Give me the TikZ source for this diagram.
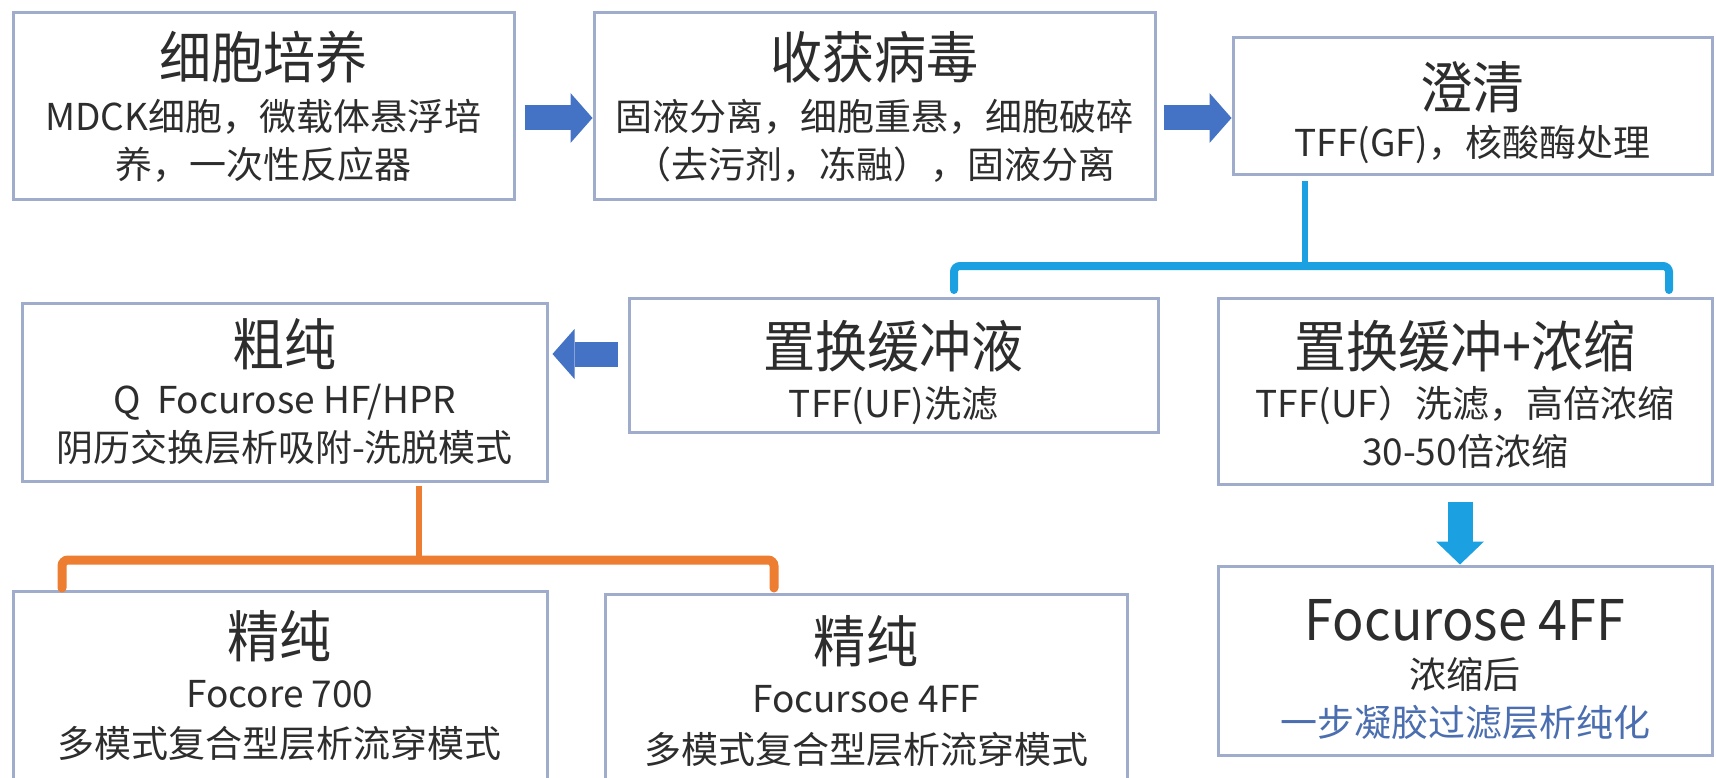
\documentclass[tikz,border=0pt]{standalone}
\usepackage{fontspec}
\setmainfont{Noto Sans CJK SC}
\newfontfamily\titlefam[FakeStretch=0.93]{Noto Sans CJK SC}
\usetikzlibrary{arrows.meta}
\definecolor{boxline}{RGB}{160,172,204}
\definecolor{arrowblue}{RGB}{68,114,196}
\definecolor{lightblue}{RGB}{27,160,226}
\definecolor{orangebr}{RGB}{237,125,49}
\definecolor{txt}{RGB}{45,45,45}
\definecolor{bluetxt}{RGB}{74,110,175}
\newcommand{\titlesz}{\titlefam\fontsize{56}{60}\selectfont}
\newcommand{\subsz}{\fontsize{37}{48}\selectfont}
\tikzset{
  boxstyle/.style={draw=boxline, line width=3pt, fill=white, inner sep=0pt},
  textblock/.style={align=center, text=txt, inner sep=0pt, font=\subsz},
  bigarrow/.style={draw=arrowblue, line width=25pt, -{Triangle[width=50pt,length=22pt,line width=0pt]}},
  downarrow/.style={draw=lightblue, line width=25pt, -{Triangle[width=48pt,length=23pt,line width=0pt]}},
  bluebr/.style={draw=lightblue, line width=8pt, rounded corners=6pt, line cap=round},
  bluestem/.style={draw=lightblue, line width=6pt},
  orbr/.style={draw=orangebr, line width=9pt, rounded corners=6pt, line cap=round},
  orstem/.style={draw=orangebr, line width=6pt}
}
\begin{document}
\begin{tikzpicture}[x=1pt,y=-1pt]
\useasboundingbox (0,0) rectangle (1716,778);
\fill[white] (0,0) rectangle (1716,778);
% boxes
\node[boxstyle, minimum width=501pt, minimum height=187pt] (b1) at (263.5,106.5) {};
\node[boxstyle, minimum width=561pt, minimum height=187pt] (b2) at (874.5,106.5) {};
\node[boxstyle, minimum width=479pt, minimum height=137pt] (b3) at (1472.5,106.5) {};
\node[boxstyle, minimum width=529pt, minimum height=134pt] (b4) at (893.5,365) {};
\node[boxstyle, minimum width=494pt, minimum height=186pt] (b5) at (1465,391) {};
\node[boxstyle, minimum width=525pt, minimum height=178pt] (b6) at (284.5,392) {};
\node[boxstyle, minimum width=534pt, minimum height=190pt] (b7) at (280,686) {};
\node[boxstyle, minimum width=522pt, minimum height=190pt] (b8) at (866,689) {};
\node[boxstyle, minimum width=494pt, minimum height=189pt] (b9) at (1465,660.5) {};
% texts
\node[textblock] (t1) at (b1.center)
  {{\titlesz 细胞培养}\\[4pt]MDCK细胞，微载体悬浮培\\养，一次性反应器};
\node[textblock] (t2) at (b2.center)
  {{\titlesz 收获病毒}\\[4pt]固液分离，细胞重悬，细胞破碎\\（去污剂，冻融），固液分离};
\node[textblock] (t3) at ([yshift=-6pt]b3.center)
  {{\titlesz 澄清}\\[0pt]TFF(GF)，核酸酶处理};
\node[textblock] (t4) at ([yshift=-8pt]b4.center)
  {{\titlesz 置换缓冲液}\\[2pt]TFF(UF)洗滤};
\node[textblock] (t5) at ([yshift=-3pt]b5.center)
  {{\titlesz 置换缓冲+浓缩}\\[2pt]TFF(UF）洗滤，高倍浓缩\\30-50倍浓缩};
\node[textblock] (t6) at (b6.center)
  {{\titlesz 粗纯}\\[0pt]Q\ \ Focurose HF/HPR\\阴历交换层析吸附-洗脱模式};
\node[textblock] (t7) at (b7.center)
  {{\titlesz 精纯}\\[2pt]Focore 700\\[2pt]多模式复合型层析流穿模式};
\node[textblock] (t8) at ([yshift=-2pt]b8.center)
  {{\titlesz 精纯}\\[2pt]Focursoe 4FF\\[3pt]多模式复合型层析流穿模式};
\node[textblock] (t9) at ([yshift=-9pt]b9.center)
  {{\titlesz Focurose 4FF}\\[0pt]浓缩后\\\textcolor{bluetxt}{一步凝胶过滤层析纯化}};
% arrows
\draw[bigarrow] ([xshift=9pt,yshift=-11.5pt]b1.east) -- ([yshift=-11.5pt]b2.west);
\draw[bigarrow] ([xshift=7pt,yshift=-11.5pt]b2.east) -- ([yshift=-11.5pt]b3.west |- b2.east);
\draw[bigarrow] ([xshift=-10pt,yshift=11pt]b4.west) -- ([xshift=4pt,yshift=11pt]b4.west -| b6.east);
\draw[downarrow] ([xshift=-5pt,yshift=-16pt]b5.south) -- ([xshift=-5pt]b9.north);
% blue bracket
\coordinate (bj) at (1305,266);
\coordinate (bl1) at (954,290);
\coordinate (bl2) at (1669,290);
\draw[bluestem] ([yshift=-5pt]b3.south -| bj) -- (bj);
\draw[bluebr] (bl1) -- (bl1 |- bj) -- (bl2 |- bj) -- (bl2);
% orange bracket
\coordinate (oj) at (419,560);
\coordinate (ol1) at (62,588);
\coordinate (ol2) at (774,588);
\draw[orstem] ([yshift=-3pt]b6.south -| oj) -- (oj);
\draw[orbr] (ol1) -- (ol1 |- oj) -- (ol2 |- oj) -- (ol2);
\end{tikzpicture}
\end{document}
